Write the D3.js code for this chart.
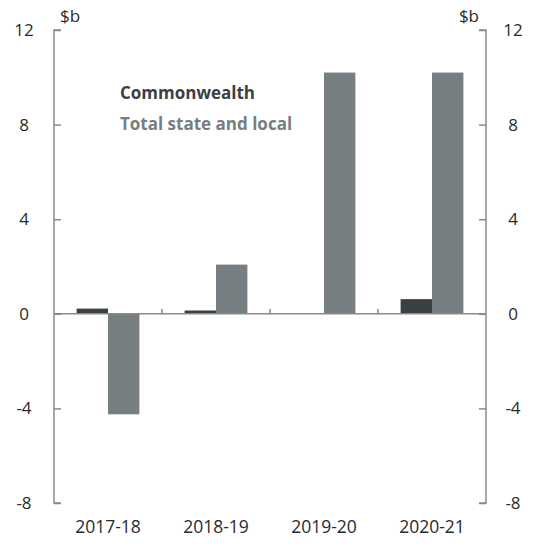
<!DOCTYPE html>
<html>
<head>
<meta charset="utf-8">
<script src="https://cdn.jsdelivr.net/npm/d3@7.9.0/dist/d3.min.js"></script>
<style>
  body { margin: 0; background: #fff; }
  text { font-family: "Open Sans", "DejaVu Sans", sans-serif; fill: #2a2a2a; }
</style>
</head>
<body>
<div id="chart"></div>
<script>
// values in $b
const years = ['2017-18', '2018-19', '2019-20', '2020-21'];
const commonwealth = [0.22, 0.14, 0.02, 0.62];
const stateLocal = [-4.25, 2.08, 10.2, 10.2];
const yTicks = [-8, -4, 0, 4, 8, 12];
const seriesNames = ['Commonwealth', 'Total state and local'];
const colours = ['#3b4043', '#767e81'];

const width = 534, height = 550;
const plotLeft = 54, plotRight = 486, plotTop = 30, plotBottom = 503;

const svg = d3.select('#chart').append('svg')
  .attr('width', width).attr('height', height);

const x = d3.scaleBand().domain(years).range([plotLeft, plotRight]).padding(0);
const y = d3.scaleLinear().domain([-8, 12]).range([plotBottom, plotTop]);
const inner = d3.scaleBand().domain([0, 1]).range([0, x.bandwidth()]).paddingInner(0).paddingOuter(0.72);

const axisColour = '#8a8a8a';

// left axis
svg.append('g').attr('transform', `translate(${plotLeft},0)`)
  .call(d3.axisRight(y).tickValues(yTicks).tickSize(7).tickFormat(''))
  .call(g => g.selectAll('line, path').attr('stroke', axisColour).attr('stroke-width', 1.5))
  .call(g => g.select('.domain').attr('d', `M7,${plotTop}H0V${plotBottom}H7`));

// right axis
svg.append('g').attr('transform', `translate(${plotRight},0)`)
  .call(d3.axisLeft(y).tickValues(yTicks).tickSize(7).tickFormat(''))
  .call(g => g.selectAll('line, path').attr('stroke', axisColour).attr('stroke-width', 1.5))
  .call(g => g.select('.domain').attr('d', `M-7,${plotTop}H0V${plotBottom}H-7`));

// tick labels
svg.append('g').selectAll('text').data(yTicks).join('text')
  .attr('x', 24).attr('y', d => y(d)).attr('dy', '0.35em')
  .attr('text-anchor', 'middle').style('font-size', '17px').text(d => d);
svg.append('g').selectAll('text').data(yTicks).join('text')
  .attr('x', 513).attr('y', d => y(d)).attr('dy', '0.35em')
  .attr('text-anchor', 'middle').style('font-size', '17px').text(d => d);

svg.append('text').attr('x', 60).attr('y', 22).style('font-size', '17px').text('$b');
svg.append('text').attr('x', 479).attr('y', 22).attr('text-anchor', 'end').style('font-size', '17px').text('$b');

// bars
const rows = years.map((yr, i) => [commonwealth[i], stateLocal[i]]);
svg.append('g').selectAll('g').data(rows).join('g')
  .attr('transform', (d, i) => `translate(${x(years[i])},0)`)
  .selectAll('rect').data(d => d).join('rect')
  .attr('x', (d, j) => inner(j))
  .attr('width', inner.bandwidth())
  .attr('y', d => y(Math.max(0, d)))
  .attr('height', d => Math.abs(y(d) - y(0)))
  .attr('fill', (d, j) => colours[j]);

// zero line and category ticks
svg.append('line')
  .attr('x1', plotLeft).attr('x2', plotRight).attr('y1', y(0)).attr('y2', y(0))
  .attr('stroke', axisColour).attr('stroke-width', 1.5);
svg.append('g').selectAll('line').data(years.slice(1)).join('line')
  .attr('x1', d => x(d)).attr('x2', d => x(d))
  .attr('y1', y(0)).attr('y2', y(0) - 5)
  .attr('stroke', axisColour).attr('stroke-width', 1.5);

// category labels
svg.append('g').selectAll('text').data(years).join('text')
  .attr('x', d => x(d) + x.bandwidth() / 2).attr('y', 533)
  .attr('text-anchor', 'middle').style('font-size', '17.5px').text(d => d);

// legend
svg.append('g').selectAll('text').data(seriesNames).join('text')
  .attr('x', 120).attr('y', (d, i) => 99 + i * 31)
  .style('font-size', '17px').style('font-weight', 'bold')
  .style('fill', (d, i) => colours[i]).text(d => d);
</script>
</body>
</html>
